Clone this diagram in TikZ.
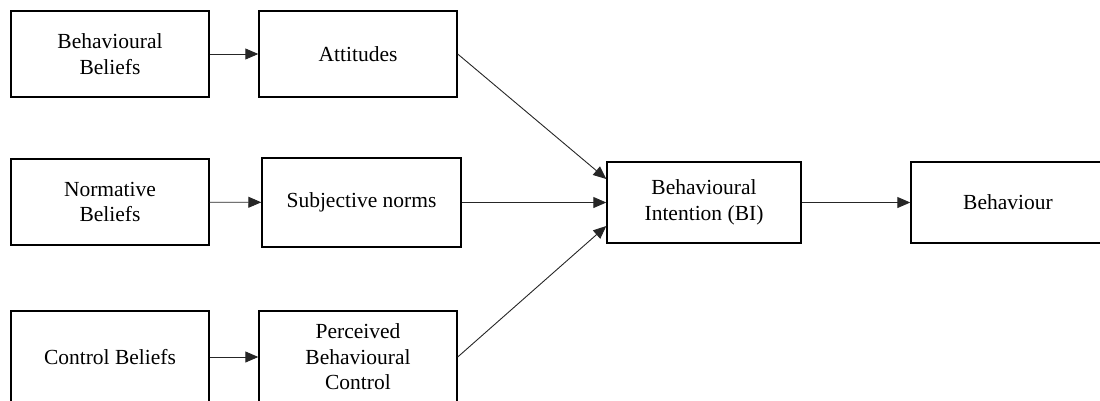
\documentclass[tikz,border=0pt]{standalone}
\usepackage{fontspec}
\setmainfont{Liberation Serif}
\usetikzlibrary{arrows.meta}
\begin{document}
\begin{tikzpicture}[x=1pt,y=-1pt,
  box/.style={draw=black, line width=1.4pt, inner sep=0pt, align=center,
    font=\fontsize{21.5}{25.5}\selectfont},
  arr/.style={draw=black!85, line width=0.9pt,
    -{Triangle[length=13pt,width=11pt]}}]
  \useasboundingbox (0,0) rectangle (1100,400);
  \clip (0,0) rectangle (1100,400);
  % belief boxes (left column)
  \node[box, minimum width=198pt, minimum height=86pt] (bb) at (110,54) {Behavioural\\Beliefs};
  \node[box, minimum width=198pt, minimum height=86pt] (nb) at (110,202) {Normative\\Beliefs};
  \node[box, minimum width=198pt, minimum height=92pt] (cb) at (110,357) {Control Beliefs};
  % determinants (middle column)
  \node[box, minimum width=198pt, minimum height=86pt] (att) at (358,54) {Attitudes};
  \node[box, minimum width=199pt, minimum height=89pt] (sn) at (361.5,202.5) {Subjective norms};
  \node[box, minimum width=198pt, minimum height=92pt] (pbc) at (358,357) {Perceived\\Behavioural\\Control};
  % intention and behaviour
  \node[box, minimum width=194pt, minimum height=81pt] (bi) at (704,202.5) {Behavioural\\Intention (BI)};
  \node[box, minimum width=194pt, minimum height=81pt] (beh) at (1008,202.5) {Behaviour};
  % connectors
  \draw[arr] (bb) -- (att);
  \draw[arr] (nb) -- (sn);
  \draw[arr] (cb) -- (pbc);
  \draw[arr] (att.east) -- ([yshift=23.5pt]bi.west);
  \draw[arr] (sn.east) -- (bi.west);
  \draw[arr] (pbc.east) -- ([yshift=-23.5pt]bi.west);
  \draw[arr] (bi) -- (beh);
\end{tikzpicture}
\end{document}
